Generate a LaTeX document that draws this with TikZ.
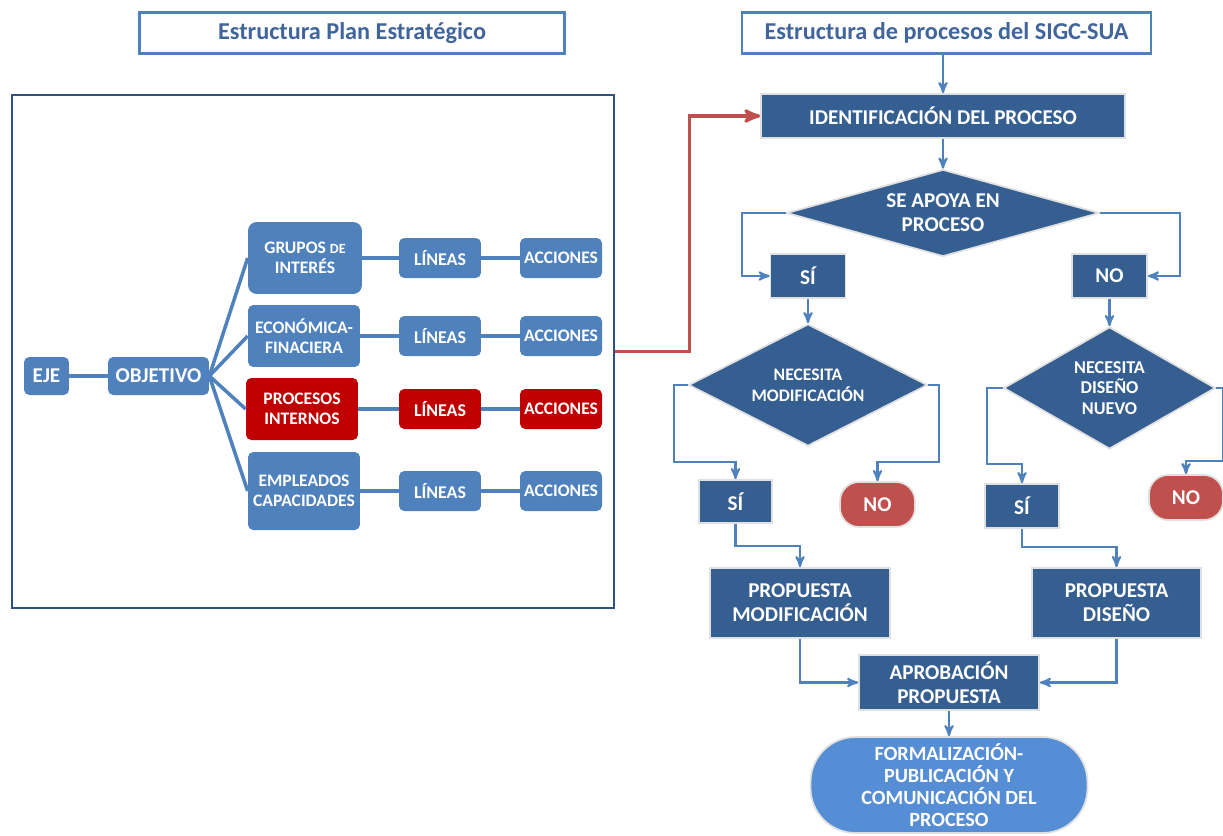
\documentclass[tikz,border=0pt]{standalone}
\usepackage{fontspec}
\setmainfont{Carlito}
\usetikzlibrary{arrows,shapes.geometric}

\definecolor{azulclaro}{HTML}{4F81BD}
\definecolor{azuloscuro}{HTML}{365F91}
\definecolor{azulmarco}{HTML}{2F5283}
\definecolor{rojoproc}{HTML}{C00000}
\definecolor{rojono}{HTML}{C0504D}
\definecolor{azulfin}{HTML}{558ED5}
\definecolor{textotit}{HTML}{41649A}

\begin{document}
\begin{tikzpicture}[x=0.02cm,y=-0.02cm,>=stealth',
  titulo/.style={draw=azulclaro,line width=1.6pt,fill=white,text=textotit,
    font=\bfseries\fontsize{13.8}{16}\selectfont,minimum height=0.82cm},
  plan/.style={rectangle,rounded corners=3pt,fill=azulclaro,text=white,align=center,
    inner sep=1pt,font=\bfseries\fontsize{10}{11.5}\selectfont},
  rojo/.style={plan,fill=rojoproc},
  paso/.style={rectangle,fill=azuloscuro,draw=black!12,line width=1pt,text=white,
    align=center,inner sep=1pt,font=\bfseries\fontsize{12}{13.5}\selectfont},
  decision/.style={diamond,fill=azuloscuro,draw=black!12,line width=1pt,text=white,
    align=center,inner sep=0pt,font=\bfseries\fontsize{10}{12}\selectfont},
  fin/.style={paso,fill=rojono,rounded corners=0.38cm},
  rama/.style={draw=azulclaro,line width=2pt},
  flecha/.style={->,draw=azulclaro,line width=1.2pt}]
  \useasboundingbox (0,0) rectangle (1223,835);

  % plan estrategico
  \node[titulo,minimum width=8.5cm] (tit1) at (352,33) {Estructura Plan Estratégico};
  \node[draw=azulmarco,line width=1.5pt,minimum width=12.04cm,minimum height=10.26cm]
    (marco) at (313,351.5) {};
  \node[plan,minimum width=0.9cm,minimum height=0.76cm,font=\bfseries\fontsize{12}{14}\selectfont]
    (eje) at (46.5,376) {EJE};
  \node[plan,minimum width=2.02cm,minimum height=0.76cm,font=\bfseries\fontsize{12}{14}\selectfont]
    (objetivo) at (158.5,376) {OBJETIVO};
  \node[plan,rounded corners=5pt,minimum width=2.28cm,minimum height=1.44cm]
    (grupos) at (305,258) {GRUPOS {\fontsize{8}{9}\selectfont DE}\\INTERÉS};
  \node[plan,minimum width=2.24cm,minimum height=1.24cm] (econ) at (304,336) {ECONÓMICA-\\FINACIERA};
  \node[rojo,minimum width=2.24cm,minimum height=1.24cm] (procesos) at (302,409) {PROCESOS\\INTERNOS};
  \node[plan,minimum width=2.24cm,minimum height=1.56cm] (empleados) at (304,491) {EMPLEADOS\\CAPACIDADES};
  \foreach \fila/\y/\st in {1/258/plan,2/336/plan,3/409/rojo,4/491/plan}{
    \node[\st,minimum width=1.64cm,minimum height=0.8cm,font=\bfseries\fontsize{10.2}{12}\selectfont]
      (lin\fila) at (440,\y) {LÍNEAS};
    \node[\st,minimum width=1.64cm,minimum height=0.8cm,font=\bfseries\fontsize{10}{12}\selectfont]
      (acc\fila) at (561,\y) {ACCIONES};
    \draw[rama] (lin\fila) -- (acc\fila);
  }
  \draw[rama] (eje) -- (objetivo);
  \draw[rama] (grupos) -- (lin1);
  \draw[rama] (econ) -- (lin2);
  \draw[rama] (procesos) -- (lin3);
  \draw[rama] (empleados) -- (lin4);
  \foreach \c in {grupos,econ,procesos,empleados}
    \draw[rama] (objetivo.east) -- (\c.west);

  % procesos SIGC-SUA
  \node[titulo,minimum width=8.18cm] (tit2) at (946.5,33) {Estructura de procesos del SIGC-SUA};
  \node[paso,minimum width=7.28cm,minimum height=0.88cm] (ident) at (943,116) {IDENTIFICACIÓN DEL PROCESO};
  \node[decision,minimum width=6.26cm,minimum height=1.74cm,shape aspect=3.6,
    font=\bfseries\fontsize{12}{13.5}\selectfont] (apoya) at (943,213) {SE APOYA EN\\PROCESO};
  \node[paso,minimum width=1.5cm,minimum height=0.88cm] (si1) at (808,276) {SÍ};
  \node[paso,minimum width=1.5cm,minimum height=0.88cm] (no1) at (1109.5,276) {NO};
  \node[decision,minimum width=4.78cm,minimum height=2.44cm,shape aspect=1.96]
    (modif) at (808,385) {NECESITA\\MODIFICACIÓN};
  \node[decision,minimum width=4.24cm,minimum height=2.44cm,shape aspect=1.74,
    font=\bfseries\fontsize{10.3}{11.5}\selectfont] (disenho) at (1109.5,388) {NECESITA\\DISEÑO\\NUEVO};
  \node[paso,minimum width=1.46cm,minimum height=0.86cm] (si2) at (735.5,501.5) {SÍ};
  \node[fin,minimum width=1.5cm,minimum height=0.9cm] (no2) at (877.5,504.5) {NO};
  \node[paso,minimum width=1.48cm,minimum height=0.88cm] (si3) at (1022,506) {SÍ};
  \node[fin,minimum width=1.48cm,minimum height=0.9cm] (no3) at (1186,497.5) {NO};
  \node[paso,minimum width=3.6cm,minimum height=1.4cm] (propmod) at (800,603) {PROPUESTA\\MODIFICACIÓN};
  \node[paso,minimum width=3.38cm,minimum height=1.4cm] (propdis) at (1116.5,603) {PROPUESTA\\DISEÑO};
  \node[paso,minimum width=3.6cm,minimum height=1.1cm] (aprob) at (949,682.5) {APROBACIÓN\\PROPUESTA};
  \node[paso,fill=azulfin,rounded corners=0.9cm,minimum width=5.54cm,minimum height=1.92cm,
    font=\bfseries\fontsize{11.5}{12.4}\selectfont] (formal) at (949,785)
    {FORMALIZACIÓN-\\PUBLICACIÓN Y\\COMUNICACIÓN DEL\\PROCESO};

  \draw[->,draw=rojono,line width=2pt] (marco.east) -- ++(74,0) |- (ident.west);
  \draw[flecha] (tit2.south -| ident.north) -- (ident.north);
  \draw[flecha] (ident) -- (apoya);
  \draw[flecha] (apoya.west) -- ++(-44,0) |- (si1.west);
  \draw[flecha] (apoya.east) -- ++(80,0) |- (no1.east);
  \draw[flecha] (si1) -- (modif);
  \draw[flecha] (no1) -- (disenho);
  \draw[flecha] (modif.west) -- ++(-14,0) |- ([yshift=0.34cm]si2.north) -- (si2.north);
  \draw[flecha] (modif.east) -- ++(11,0) |- ([yshift=0.38cm]no2.north) -- (no2.north);
  \draw[flecha] (disenho.west) -- ++(-16,0) |- ([yshift=0.38cm]si3.north) -- (si3.north);
  \draw[flecha] (disenho.east) -- ++(7,0) |- ([yshift=0.26cm]no3.north) -- (no3.north);
  \draw[flecha] (si2.south) |- ([yshift=0.42cm]propmod.north) -- (propmod.north);
  \draw[flecha] (si3.south) |- ([yshift=0.4cm]propdis.north) -- (propdis.north);
  \draw[flecha] (propmod.south) |- (aprob.west);
  \draw[flecha] (propdis.south) |- (aprob.east);
  \draw[flecha] (aprob) -- (formal);
\end{tikzpicture}
\end{document}
